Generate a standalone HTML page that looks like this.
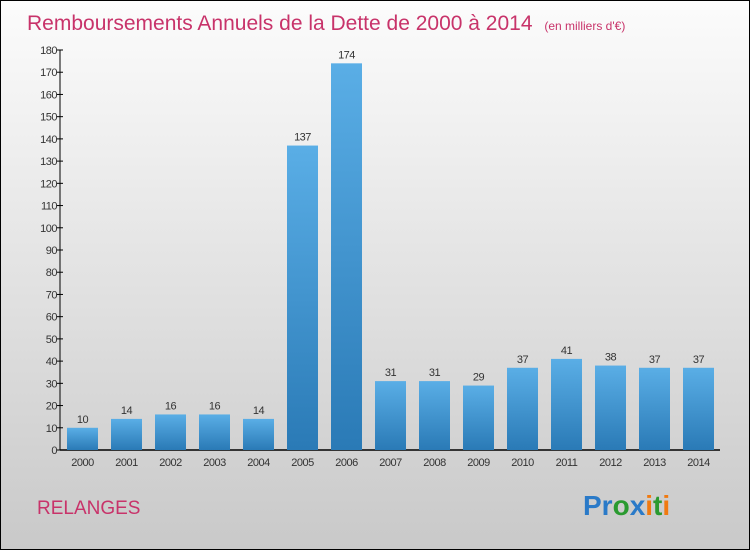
<!DOCTYPE html>
<html><head><meta charset="utf-8"><style>
body{margin:0}
#c{position:relative;width:748px;height:548px;border:1px solid #000;background:linear-gradient(#fcfcfc,#c9c9c9);font-family:"Liberation Sans",sans-serif;overflow:hidden}
</style></head><body>
<div id="c">
<svg id="s" width="748" height="548">
<defs><linearGradient id="g" x1="0" y1="0" x2="0" y2="1"><stop offset="0" stop-color="#5aaee6"/><stop offset="1" stop-color="#2a7ab6"/></linearGradient></defs>
<text x="26" y="29" font-size="21" fill="#c8336a">Remboursements Annuels de la Dette de 2000 à 2014 <tspan font-size="12" dx="6">(en milliers d'€)</tspan></text>
<text x="36" y="513" font-size="19" fill="#c8336a">RELANGES</text>
<text x="582" y="514" font-size="28" font-weight="bold"><tspan fill="#2a7ac8">Pr</tspan><tspan fill="#2a9a30">o</tspan><tspan fill="#2a7ac8">x</tspan><tspan fill="#f07a10">i</tspan><tspan fill="#2a9a30">t</tspan><tspan fill="#f07a10">i</tspan></text>
<g id="plot"></g>
</svg>
</div>
<script>
const categories=["2000","2001","2002","2003","2004","2005","2006","2007","2008","2009","2010","2011","2012","2013","2014"];
const values=[10,14,16,16,14,137,174,31,31,29,37,41,38,37,37];
const yTicks=[0,10,20,30,40,50,60,70,80,90,100,110,120,130,140,150,160,170,180];
const ns="http://www.w3.org/2000/svg";
const p=document.getElementById('plot');
const y0=449,yTop=49,yMax=180,x0=59,x1=719;
const Y=v=>y0-(y0-yTop)*v/yMax;
const X=i=>66+44*i;
function el(t,a){const e=document.createElementNS(ns,t);for(const k in a)e.setAttribute(k,a[k]);p.appendChild(e);return e;}
let ax=el('line',{x1:x0,y1:yTop,x2:x0,y2:y0,stroke:'#000'});

let bx=el('line',{x1:x0,y1:y0,x2:x1,y2:y0,stroke:'#000','stroke-width':1.5});

yTicks.forEach(v=>{
 const tk=el('line',{x1:x0-3,x2:x0+3,y1:Y(v),y2:Y(v),stroke:'#000'});
 
 const t=el('text',{x:x0-3,y:Y(v)+4,'font-size':11,'text-anchor':'end',fill:'#333','letter-spacing':'-0.5'});
 t.textContent=v;
});
categories.forEach((c,i)=>{
 const v=values[i];
 const r=el('rect',{x:X(i),y:Y(v),width:31,height:y0-Y(v),fill:'url(#g)'});
 
 const t=el('text',{x:X(i)+15.5,y:Y(v)-5,'font-size':11,'text-anchor':'middle',fill:'#333','letter-spacing':'-0.5'});
 t.textContent=v;
 const l=el('text',{x:X(i)+15.5,y:y0+16,'font-size':11,'text-anchor':'middle',fill:'#333','letter-spacing':'-0.5'});
 l.textContent=c;
});
</script>
</body></html>
